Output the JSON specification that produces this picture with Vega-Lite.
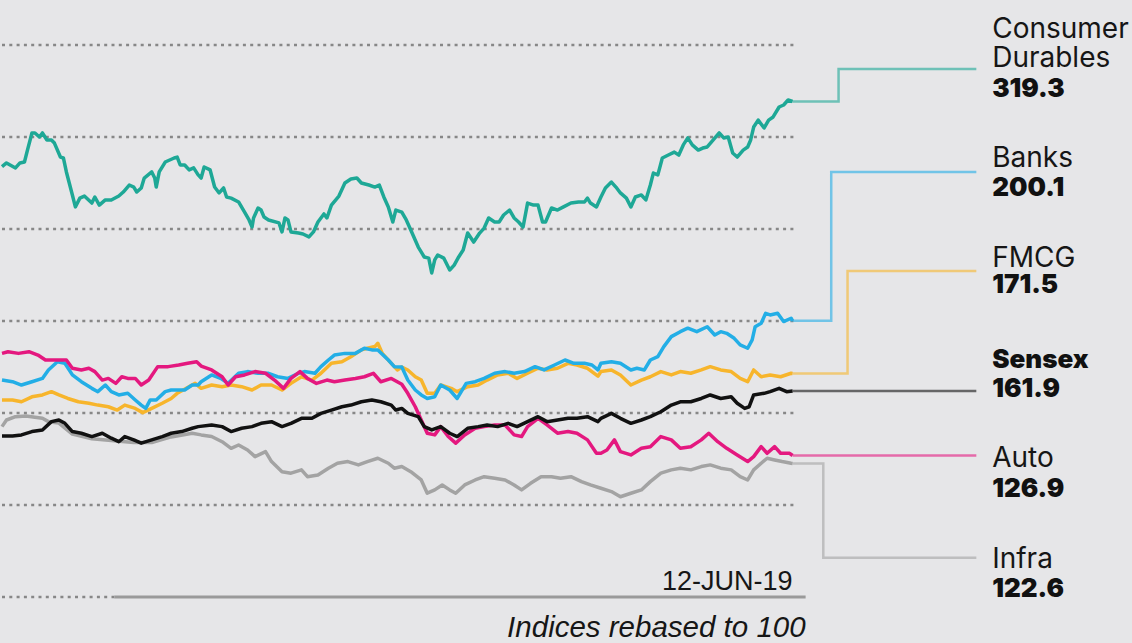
{
 "$schema": "https://vega.github.io/schema/vega-lite/v6.json",
 "width": 1132, "height": 643,
 "autosize": {"type": "fit", "contains": "padding"},
 "padding": 0,
 "background": "#e6e6e8",
 "config": {"view": {"stroke": null}, "axis": {"disable": true}, "legend": {"disable": true}},
 "datasets": {
  "grid": [{"g":100},{"g":150},{"g":200},{"g":250},{"g":300},{"g":350}],
  "cd": [{"day":0,"index":283.9},{"day":3,"index":285.9},{"day":9,"index":283.2},{"day":12,"index":285.9},{"day":15,"index":286.4},{"day":17,"index":292.9},{"day":20,"index":302.2},{"day":22,"index":302.2},{"day":25,"index":300.0},{"day":27,"index":302.2},{"day":30,"index":298.4},{"day":33,"index":298.4},{"day":35,"index":296.7},{"day":39,"index":289.1},{"day":41,"index":288.6},{"day":43,"index":281.0},{"day":47,"index":268.5},{"day":49,"index":262.0},{"day":52,"index":266.8},{"day":55,"index":267.9},{"day":60,"index":264.1},{"day":62,"index":267.4},{"day":65,"index":263.0},{"day":69,"index":265.8},{"day":73,"index":265.8},{"day":78,"index":267.9},{"day":81,"index":270.1},{"day":85,"index":273.9},{"day":88,"index":272.8},{"day":90,"index":270.1},{"day":93,"index":272.3},{"day":95,"index":277.7},{"day":100,"index":281.0},{"day":102,"index":277.7},{"day":103,"index":272.8},{"day":105,"index":281.0},{"day":109,"index":286.4},{"day":112,"index":287.5},{"day":115,"index":288.6},{"day":117,"index":289.1},{"day":119,"index":284.8},{"day":122,"index":284.8},{"day":125,"index":282.1},{"day":128,"index":283.2},{"day":131,"index":279.4},{"day":133,"index":277.7},{"day":135,"index":283.7},{"day":139,"index":282.1},{"day":142,"index":272.8},{"day":145,"index":269.6},{"day":148,"index":272.3},{"day":150,"index":267.4},{"day":153,"index":266.8},{"day":158,"index":264.7},{"day":162,"index":259.2},{"day":165,"index":254.9},{"day":167,"index":251.1},{"day":168,"index":256.0},{"day":171,"index":261.4},{"day":173,"index":260.3},{"day":175,"index":256.5},{"day":178,"index":254.9},{"day":185,"index":253.3},{"day":187,"index":248.4},{"day":189,"index":256.0},{"day":191,"index":254.9},{"day":193,"index":248.4},{"day":198,"index":247.8},{"day":201,"index":247.3},{"day":205,"index":245.7},{"day":208,"index":248.4},{"day":211,"index":253.8},{"day":215,"index":258.2},{"day":217,"index":256.0},{"day":220,"index":263.0},{"day":225,"index":267.9},{"day":229,"index":275.0},{"day":233,"index":277.2},{"day":237,"index":277.7},{"day":240,"index":275.0},{"day":245,"index":273.9},{"day":249,"index":272.8},{"day":252,"index":273.9},{"day":255,"index":267.4},{"day":258,"index":262.0},{"day":261,"index":253.8},{"day":263,"index":260.3},{"day":267,"index":259.2},{"day":270,"index":254.9},{"day":273,"index":249.5},{"day":278,"index":240.2},{"day":282,"index":234.8},{"day":285,"index":234.2},{"day":287,"index":226.1},{"day":289,"index":233.2},{"day":291,"index":235.9},{"day":295,"index":234.2},{"day":299,"index":227.7},{"day":302,"index":230.4},{"day":305,"index":234.8},{"day":308,"index":238.6},{"day":311,"index":247.8},{"day":315,"index":242.9},{"day":319,"index":247.8},{"day":322,"index":250.5},{"day":325,"index":256.0},{"day":329,"index":253.8},{"day":332,"index":253.8},{"day":335,"index":257.6},{"day":339,"index":260.3},{"day":342,"index":256.0},{"day":345,"index":253.8},{"day":348,"index":251.1},{"day":351,"index":264.1},{"day":355,"index":263.0},{"day":358,"index":263.0},{"day":361,"index":253.8},{"day":363,"index":253.8},{"day":367,"index":261.4},{"day":371,"index":260.3},{"day":375,"index":262.0},{"day":380,"index":264.1},{"day":385,"index":264.7},{"day":389,"index":264.7},{"day":391,"index":266.8},{"day":393,"index":264.1},{"day":397,"index":262.0},{"day":400,"index":267.4},{"day":403,"index":272.3},{"day":407,"index":275.5},{"day":410,"index":272.8},{"day":413,"index":269.6},{"day":417,"index":266.8},{"day":420,"index":262.0},{"day":423,"index":267.4},{"day":427,"index":268.5},{"day":430,"index":265.8},{"day":433,"index":273.9},{"day":435,"index":280.4},{"day":438,"index":279.4},{"day":441,"index":288.6},{"day":445,"index":290.2},{"day":449,"index":291.8},{"day":452,"index":290.2},{"day":455,"index":295.7},{"day":458,"index":299.5},{"day":461,"index":295.7},{"day":465,"index":292.9},{"day":468,"index":294.0},{"day":471,"index":294.6},{"day":475,"index":298.4},{"day":479,"index":302.2},{"day":482,"index":299.5},{"day":485,"index":300.0},{"day":488,"index":291.3},{"day":491,"index":289.1},{"day":495,"index":292.9},{"day":498,"index":294.6},{"day":500,"index":298.4},{"day":502,"index":305.4},{"day":505,"index":309.2},{"day":509,"index":304.9},{"day":512,"index":309.2},{"day":515,"index":310.9},{"day":519,"index":316.3},{"day":522,"index":317.4},{"day":525,"index":320.1},{"day":528,"index":319.3}],
  "banks": [{"day":0,"index":167.9},{"day":7,"index":167.0},{"day":13,"index":165.2},{"day":20,"index":167.0},{"day":27,"index":168.8},{"day":31,"index":173.4},{"day":37,"index":177.9},{"day":42,"index":177.0},{"day":47,"index":170.7},{"day":53,"index":167.0},{"day":60,"index":163.4},{"day":64,"index":161.6},{"day":69,"index":165.2},{"day":73,"index":161.6},{"day":78,"index":159.8},{"day":84,"index":160.7},{"day":89,"index":157.1},{"day":93,"index":154.3},{"day":96,"index":152.5},{"day":99,"index":157.1},{"day":103,"index":157.1},{"day":109,"index":161.6},{"day":113,"index":162.5},{"day":122,"index":162.5},{"day":127,"index":165.2},{"day":131,"index":165.2},{"day":133,"index":167.0},{"day":140,"index":170.7},{"day":146,"index":168.8},{"day":151,"index":166.1},{"day":158,"index":171.6},{"day":164,"index":172.5},{"day":171,"index":171.6},{"day":178,"index":171.6},{"day":184,"index":169.7},{"day":191,"index":168.8},{"day":198,"index":171.6},{"day":202,"index":172.5},{"day":209,"index":171.6},{"day":213,"index":175.2},{"day":218,"index":178.8},{"day":222,"index":181.5},{"day":229,"index":182.4},{"day":236,"index":182.4},{"day":242,"index":185.2},{"day":247,"index":184.3},{"day":251,"index":184.3},{"day":258,"index":178.8},{"day":262,"index":175.2},{"day":267,"index":175.0},{"day":271,"index":167.9},{"day":276,"index":162.5},{"day":280,"index":159.8},{"day":284,"index":157.9},{"day":289,"index":158.8},{"day":293,"index":165.2},{"day":299,"index":162.5},{"day":304,"index":157.9},{"day":310,"index":166.1},{"day":316,"index":167.0},{"day":322,"index":168.8},{"day":329,"index":171.6},{"day":336,"index":172.5},{"day":342,"index":171.6},{"day":349,"index":172.5},{"day":356,"index":175.2},{"day":362,"index":173.4},{"day":369,"index":176.1},{"day":376,"index":178.8},{"day":382,"index":177.0},{"day":389,"index":177.0},{"day":394,"index":176.1},{"day":398,"index":173.4},{"day":400,"index":177.0},{"day":407,"index":177.9},{"day":413,"index":177.0},{"day":420,"index":173.4},{"day":424,"index":174.3},{"day":429,"index":173.4},{"day":433,"index":178.8},{"day":438,"index":180.6},{"day":442,"index":186.1},{"day":447,"index":191.5},{"day":453,"index":194.2},{"day":458,"index":196.1},{"day":464,"index":194.2},{"day":471,"index":196.9},{"day":476,"index":192.4},{"day":480,"index":194.2},{"day":484,"index":193.3},{"day":489,"index":190.6},{"day":493,"index":187.0},{"day":498,"index":185.2},{"day":501,"index":189.7},{"day":503,"index":196.9},{"day":507,"index":198.8},{"day":510,"index":204.2},{"day":513,"index":203.3},{"day":518,"index":204.2},{"day":522,"index":199.7},{"day":527,"index":201.5},{"day":528,"index":200.1}],
  "fmcg": [{"day":0,"index":157.1},{"day":7,"index":157.1},{"day":13,"index":156.1},{"day":20,"index":158.8},{"day":27,"index":159.8},{"day":33,"index":161.6},{"day":38,"index":159.8},{"day":44,"index":157.9},{"day":51,"index":156.1},{"day":58,"index":155.3},{"day":64,"index":154.3},{"day":71,"index":153.4},{"day":77,"index":151.6},{"day":82,"index":154.3},{"day":89,"index":152.5},{"day":94,"index":150.2},{"day":100,"index":152.5},{"day":107,"index":155.3},{"day":113,"index":157.9},{"day":117,"index":160.7},{"day":121,"index":162.5},{"day":129,"index":166.1},{"day":133,"index":163.4},{"day":140,"index":165.2},{"day":147,"index":164.3},{"day":153,"index":165.2},{"day":160,"index":164.3},{"day":167,"index":162.5},{"day":173,"index":165.2},{"day":180,"index":165.2},{"day":187,"index":162.5},{"day":193,"index":166.1},{"day":200,"index":169.7},{"day":207,"index":167.9},{"day":213,"index":171.6},{"day":220,"index":177.0},{"day":227,"index":177.9},{"day":233,"index":180.6},{"day":240,"index":184.3},{"day":244,"index":185.2},{"day":249,"index":186.1},{"day":251,"index":187.9},{"day":254,"index":182.4},{"day":260,"index":177.0},{"day":264,"index":173.4},{"day":267,"index":175.0},{"day":271,"index":173.4},{"day":276,"index":169.7},{"day":280,"index":167.9},{"day":284,"index":160.7},{"day":289,"index":160.7},{"day":293,"index":165.2},{"day":300,"index":163.4},{"day":304,"index":161.6},{"day":311,"index":164.3},{"day":318,"index":165.2},{"day":324,"index":167.9},{"day":331,"index":170.7},{"day":338,"index":171.6},{"day":344,"index":168.8},{"day":351,"index":171.6},{"day":358,"index":174.3},{"day":364,"index":173.4},{"day":371,"index":174.3},{"day":378,"index":177.0},{"day":384,"index":176.1},{"day":391,"index":174.3},{"day":398,"index":170.0},{"day":400,"index":172.5},{"day":407,"index":173.4},{"day":413,"index":170.7},{"day":420,"index":165.2},{"day":427,"index":167.9},{"day":433,"index":169.7},{"day":440,"index":172.5},{"day":447,"index":170.7},{"day":453,"index":172.5},{"day":460,"index":171.6},{"day":467,"index":173.4},{"day":473,"index":175.2},{"day":480,"index":173.4},{"day":487,"index":172.5},{"day":493,"index":168.8},{"day":498,"index":167.0},{"day":502,"index":173.4},{"day":507,"index":169.7},{"day":513,"index":170.7},{"day":520,"index":169.7},{"day":527,"index":171.6},{"day":528,"index":171.5}],
  "sensex": [{"day":0,"index":137.5},{"day":7,"index":137.5},{"day":13,"index":138.1},{"day":20,"index":139.9},{"day":27,"index":140.8},{"day":33,"index":145.3},{"day":38,"index":146.2},{"day":42,"index":144.4},{"day":47,"index":139.9},{"day":53,"index":139.0},{"day":60,"index":137.2},{"day":67,"index":139.0},{"day":73,"index":136.3},{"day":78,"index":134.4},{"day":82,"index":137.2},{"day":88,"index":135.4},{"day":93,"index":133.6},{"day":100,"index":135.4},{"day":107,"index":137.2},{"day":113,"index":139.0},{"day":120,"index":139.9},{"day":127,"index":141.7},{"day":131,"index":142.6},{"day":140,"index":143.5},{"day":147,"index":142.6},{"day":153,"index":139.9},{"day":160,"index":141.7},{"day":167,"index":142.6},{"day":173,"index":144.4},{"day":180,"index":145.3},{"day":187,"index":142.6},{"day":193,"index":144.4},{"day":200,"index":147.1},{"day":207,"index":147.1},{"day":213,"index":149.8},{"day":220,"index":151.6},{"day":227,"index":153.4},{"day":233,"index":154.3},{"day":240,"index":156.1},{"day":247,"index":157.1},{"day":253,"index":156.1},{"day":260,"index":154.3},{"day":263,"index":151.6},{"day":267,"index":152.5},{"day":271,"index":149.8},{"day":278,"index":148.0},{"day":282,"index":142.6},{"day":287,"index":140.8},{"day":293,"index":142.6},{"day":299,"index":139.0},{"day":304,"index":137.2},{"day":311,"index":141.7},{"day":318,"index":142.6},{"day":324,"index":143.5},{"day":331,"index":142.6},{"day":338,"index":144.4},{"day":344,"index":142.6},{"day":351,"index":145.3},{"day":358,"index":148.0},{"day":364,"index":145.3},{"day":371,"index":146.2},{"day":378,"index":147.1},{"day":384,"index":147.1},{"day":391,"index":148.0},{"day":398,"index":145.3},{"day":400,"index":147.1},{"day":407,"index":149.8},{"day":413,"index":147.1},{"day":420,"index":144.4},{"day":427,"index":146.2},{"day":433,"index":148.0},{"day":440,"index":150.7},{"day":447,"index":154.3},{"day":453,"index":156.1},{"day":460,"index":156.1},{"day":467,"index":157.9},{"day":473,"index":159.8},{"day":480,"index":157.9},{"day":487,"index":158.8},{"day":491,"index":155.3},{"day":496,"index":152.5},{"day":499,"index":153.4},{"day":502,"index":159.8},{"day":509,"index":160.7},{"day":513,"index":161.6},{"day":519,"index":163.4},{"day":524,"index":161.6},{"day":528,"index":161.9}],
  "auto": [{"day":0,"index":182.4},{"day":4,"index":183.3},{"day":11,"index":182.4},{"day":18,"index":183.3},{"day":24,"index":181.5},{"day":29,"index":178.8},{"day":36,"index":178.8},{"day":43,"index":178.8},{"day":47,"index":174.3},{"day":53,"index":173.4},{"day":58,"index":174.3},{"day":62,"index":172.5},{"day":67,"index":167.9},{"day":71,"index":168.8},{"day":76,"index":166.1},{"day":80,"index":169.7},{"day":84,"index":168.8},{"day":89,"index":168.8},{"day":93,"index":165.2},{"day":98,"index":167.9},{"day":104,"index":175.2},{"day":111,"index":175.2},{"day":118,"index":176.1},{"day":124,"index":177.0},{"day":130,"index":177.9},{"day":133,"index":175.5},{"day":140,"index":173.4},{"day":147,"index":169.7},{"day":151,"index":165.2},{"day":156,"index":169.7},{"day":162,"index":170.7},{"day":169,"index":172.5},{"day":176,"index":171.6},{"day":182,"index":167.9},{"day":188,"index":163.4},{"day":193,"index":168.8},{"day":199,"index":172.5},{"day":204,"index":168.8},{"day":210,"index":166.1},{"day":217,"index":167.9},{"day":222,"index":167.0},{"day":229,"index":167.9},{"day":236,"index":168.8},{"day":242,"index":169.7},{"day":248,"index":171.6},{"day":253,"index":167.0},{"day":260,"index":168.8},{"day":267,"index":165.6},{"day":271,"index":160.7},{"day":276,"index":153.4},{"day":280,"index":146.2},{"day":284,"index":139.0},{"day":289,"index":138.1},{"day":293,"index":142.6},{"day":298,"index":137.2},{"day":303,"index":133.6},{"day":309,"index":138.1},{"day":316,"index":141.7},{"day":322,"index":142.6},{"day":329,"index":143.5},{"day":336,"index":143.5},{"day":342,"index":138.1},{"day":347,"index":137.2},{"day":351,"index":142.6},{"day":358,"index":147.1},{"day":364,"index":143.5},{"day":371,"index":139.0},{"day":378,"index":139.9},{"day":384,"index":139.0},{"day":391,"index":135.4},{"day":397,"index":128.1},{"day":400,"index":128.1},{"day":404,"index":129.9},{"day":409,"index":135.4},{"day":413,"index":129.0},{"day":420,"index":127.2},{"day":427,"index":130.8},{"day":433,"index":131.7},{"day":440,"index":137.2},{"day":447,"index":135.4},{"day":453,"index":130.8},{"day":460,"index":131.7},{"day":467,"index":135.4},{"day":472,"index":139.0},{"day":478,"index":134.4},{"day":484,"index":130.8},{"day":491,"index":127.2},{"day":498,"index":123.6},{"day":502,"index":126.3},{"day":507,"index":131.7},{"day":511,"index":128.1},{"day":516,"index":131.7},{"day":520,"index":128.1},{"day":526,"index":128.1},{"day":528,"index":126.9}],
  "infra": [{"day":0,"index":142.6},{"day":3,"index":146.2},{"day":9,"index":148.0},{"day":16,"index":148.4},{"day":22,"index":147.7},{"day":27,"index":147.1},{"day":31,"index":145.3},{"day":38,"index":144.5},{"day":47,"index":138.5},{"day":60,"index":136.0},{"day":73,"index":135.0},{"day":88,"index":134.0},{"day":100,"index":134.0},{"day":113,"index":137.0},{"day":127,"index":139.0},{"day":133,"index":138.1},{"day":140,"index":137.2},{"day":147,"index":134.4},{"day":153,"index":130.8},{"day":158,"index":132.6},{"day":164,"index":129.9},{"day":169,"index":126.3},{"day":176,"index":129.0},{"day":180,"index":123.6},{"day":187,"index":118.1},{"day":193,"index":117.3},{"day":200,"index":119.1},{"day":204,"index":115.4},{"day":211,"index":116.3},{"day":218,"index":120.0},{"day":224,"index":122.7},{"day":231,"index":123.6},{"day":238,"index":121.8},{"day":244,"index":123.6},{"day":251,"index":125.4},{"day":258,"index":122.7},{"day":262,"index":120.0},{"day":267,"index":120.9},{"day":273,"index":118.1},{"day":280,"index":113.6},{"day":284,"index":106.4},{"day":289,"index":108.2},{"day":294,"index":110.9},{"day":299,"index":108.2},{"day":303,"index":106.4},{"day":309,"index":110.9},{"day":316,"index":113.6},{"day":322,"index":115.4},{"day":329,"index":114.5},{"day":336,"index":113.6},{"day":342,"index":110.9},{"day":347,"index":108.2},{"day":353,"index":111.8},{"day":360,"index":115.4},{"day":367,"index":115.4},{"day":373,"index":114.5},{"day":380,"index":115.4},{"day":387,"index":112.7},{"day":393,"index":110.9},{"day":400,"index":109.1},{"day":407,"index":107.3},{"day":413,"index":104.5},{"day":420,"index":106.4},{"day":427,"index":108.2},{"day":433,"index":112.7},{"day":440,"index":117.3},{"day":447,"index":119.1},{"day":453,"index":120.0},{"day":460,"index":119.1},{"day":467,"index":120.9},{"day":473,"index":121.8},{"day":480,"index":120.0},{"day":487,"index":119.1},{"day":493,"index":115.4},{"day":498,"index":113.6},{"day":502,"index":119.1},{"day":507,"index":122.7},{"day":511,"index":125.4},{"day":516,"index":124.5},{"day":521,"index":123.6},{"day":527,"index":122.7},{"day":528,"index":122.6}],
  "conn": [
   {"s":"Consumer Durables","o":1,"day":528,"index":319.3},{"s":"Consumer Durables","o":2,"day":558.7,"index":319.3},{"s":"Consumer Durables","o":3,"day":558.7,"index":337.0},{"s":"Consumer Durables","o":4,"day":650.7,"index":337.0},
   {"s":"Banks","o":1,"day":528,"index":200.1},{"s":"Banks","o":2,"day":553.8,"index":200.1},{"s":"Banks","o":3,"day":553.8,"index":281.0},{"s":"Banks","o":4,"day":650.7,"index":281.0},
   {"s":"FMCG","o":1,"day":528,"index":171.5},{"s":"FMCG","o":2,"day":564.7,"index":171.5},{"s":"FMCG","o":3,"day":564.7,"index":227.2},{"s":"FMCG","o":4,"day":650.7,"index":227.2},
   {"s":"Sensex","o":1,"day":528,"index":161.9},{"s":"Sensex","o":2,"day":650.7,"index":161.9},
   {"s":"Auto","o":1,"day":528,"index":126.9},{"s":"Auto","o":2,"day":650.7,"index":126.9},
   {"s":"Infra","o":1,"day":528,"index":122.6},{"s":"Infra","o":2,"day":548.5,"index":122.6},{"s":"Infra","o":3,"day":548.5,"index":71.4},{"s":"Infra","o":4,"day":650.7,"index":71.4}
  ],
  "labels": [
   {"name":"Consumer\nDurables","last":"319.3","ny":353.8,"vy":321.7},
   {"name":"Banks","last":"200.1","ny":283.5,"vy":268.0},
   {"name":"FMCG","last":"171.5","ny":229.5,"vy":215.2},
   {"name":"Sensex","last":"161.9","ny":174.3,"vy":158.9},
   {"name":"Auto","last":"126.9","ny":120.5,"vy":104.5},
   {"name":"Infra","last":"122.6","ny":65.6,"vy":49.8}
  ]
 },
 "layer": [
  {"data":{"name":"grid"},"mark":{"type":"rule","color":"#878787","strokeWidth":2.5,"strokeDash":[3,4.3]},
   "encoding":{"x":{"datum":0,"type":"quantitative","scale":{"domain":[0,754.67],"nice":false,"zero":false}},"x2":{"datum":528.7},
    "y":{"field":"g","type":"quantitative","scale":{"domain":[25,374.46],"nice":false,"zero":false}}}},
  {"data":{"values":[{"g":50}]},"mark":{"type":"rule","color":"#878787","strokeWidth":2.5,"strokeDash":[3,4.3]},
   "encoding":{"x":{"datum":0,"type":"quantitative"},"x2":{"datum":75},"y":{"field":"g","type":"quantitative"}}},
  {"data":{"values":[{"g":50}]},"mark":{"type":"rule","color":"#9a9a9a","strokeWidth":3},
   "encoding":{"x":{"datum":75,"type":"quantitative"},"x2":{"datum":536.7},"y":{"field":"g","type":"quantitative"}}},
  {"data":{"name":"conn"},"mark":{"type":"line","strokeWidth":2.5,"opacity":0.6},
   "encoding":{"x":{"field":"day","type":"quantitative"},"y":{"field":"index","type":"quantitative"},"order":{"field":"o"},
    "color":{"field":"s","type":"nominal","scale":{"domain":["Consumer Durables","Banks","FMCG","Sensex","Auto","Infra"],"range":["#1ea896","#23aee6","#f7b52c","#111111","#e4187f","#a3a3a3"]}}}},
  {"data":{"name":"infra"},"mark":{"type":"line","color":"#a3a3a3","strokeWidth":3.5,"strokeJoin":"round"},
   "encoding":{"x":{"field":"day","type":"quantitative"},"y":{"field":"index","type":"quantitative"}}},
  {"data":{"name":"fmcg"},"mark":{"type":"line","color":"#f7b52c","strokeWidth":3.5,"strokeJoin":"round"},
   "encoding":{"x":{"field":"day","type":"quantitative"},"y":{"field":"index","type":"quantitative"}}},
  {"data":{"name":"banks"},"mark":{"type":"line","color":"#23aee6","strokeWidth":3.5,"strokeJoin":"round"},
   "encoding":{"x":{"field":"day","type":"quantitative"},"y":{"field":"index","type":"quantitative"}}},
  {"data":{"name":"auto"},"mark":{"type":"line","color":"#e4187f","strokeWidth":3.5,"strokeJoin":"round"},
   "encoding":{"x":{"field":"day","type":"quantitative"},"y":{"field":"index","type":"quantitative"}}},
  {"data":{"name":"sensex"},"mark":{"type":"line","color":"#111111","strokeWidth":3.5,"strokeJoin":"round"},
   "encoding":{"x":{"field":"day","type":"quantitative"},"y":{"field":"index","type":"quantitative"}}},
  {"data":{"name":"cd"},"mark":{"type":"line","color":"#1ea896","strokeWidth":3.5,"strokeJoin":"round"},
   "encoding":{"x":{"field":"day","type":"quantitative"},"y":{"field":"index","type":"quantitative"}}},
  {"data":{"name":"labels"},"transform":[{"filter":"datum.name !== 'Sensex'"}],
   "mark":{"type":"text","align":"left","baseline":"alphabetic","font":"Inter","fontSize":28,"lineBreak":"\n","lineHeight":29,"color":"#161616"},
   "encoding":{"x":{"datum":661.3,"type":"quantitative"},"y":{"field":"ny","type":"quantitative"},"text":{"field":"name"}}},
  {"data":{"name":"labels"},"transform":[{"filter":"datum.name === 'Sensex'"}],
   "mark":{"type":"text","align":"left","baseline":"alphabetic","font":"Inter","fontSize":26,"fontWeight":900,"color":"#111111"},
   "encoding":{"x":{"datum":661.3,"type":"quantitative"},"y":{"field":"ny","type":"quantitative"},"text":{"field":"name"}}},
  {"data":{"name":"labels"},
   "mark":{"type":"text","align":"left","baseline":"alphabetic","font":"Inter","fontSize":26,"fontWeight":900,"color":"#111111"},
   "encoding":{"x":{"datum":661.3,"type":"quantitative"},"y":{"field":"vy","type":"quantitative"},"text":{"field":"last"}}},
  {"data":{"values":[{"t":"12-JUN-19"}]},
   "mark":{"type":"text","align":"right","baseline":"alphabetic","font":"Liberation Sans","fontSize":27,"color":"#161616"},
   "encoding":{"x":{"datum":528,"type":"quantitative"},"y":{"datum":53.8,"type":"quantitative"},"text":{"field":"t"}}},
  {"data":{"values":[{"t":"Indices rebased to 100"}]},
   "mark":{"type":"text","align":"right","baseline":"alphabetic","font":"Liberation Sans","fontSize":29.5,"fontStyle":"italic","color":"#161616"},
   "encoding":{"x":{"datum":536.7,"type":"quantitative"},"y":{"datum":28.2,"type":"quantitative"},"text":{"field":"t"}}}
 ]
}
